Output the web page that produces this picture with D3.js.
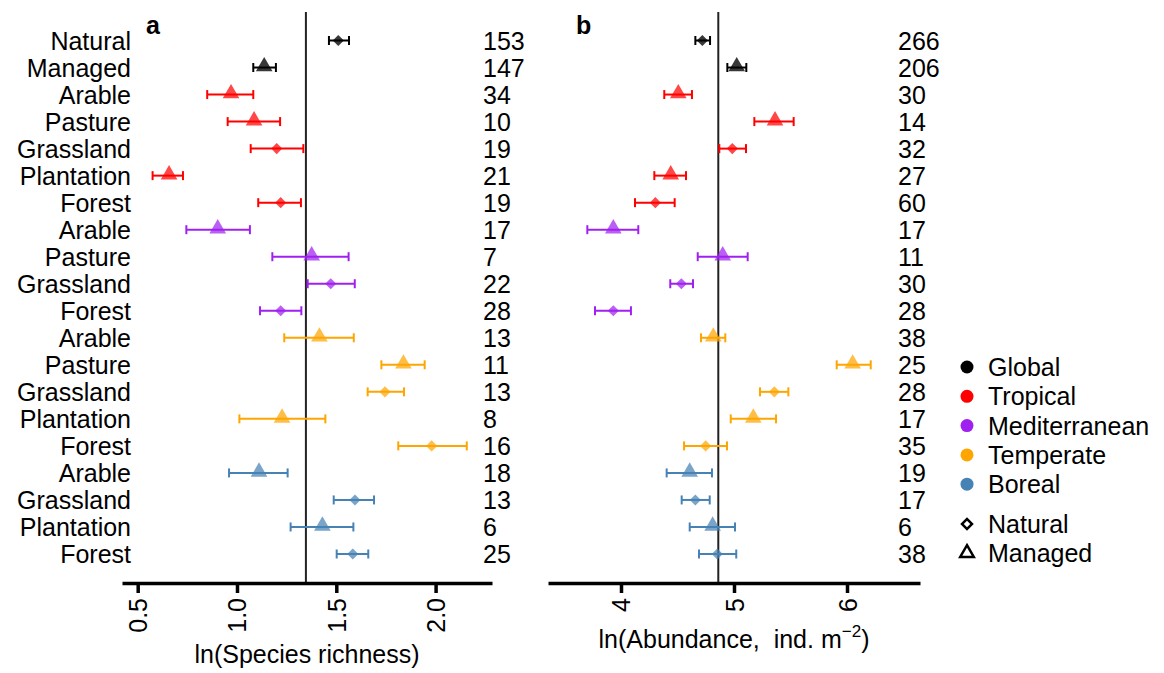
<!DOCTYPE html>
<html><head><meta charset="utf-8">
<script src="https://cdn.jsdelivr.net/npm/d3@7"></script>
<style>body{margin:0;background:#fff}svg{display:block}text{font-family:"Liberation Sans",Arial,sans-serif;fill:#000}</style>
</head><body><svg id="c" width="1164" height="673"></svg>
<script>
const rowLabels = ["Natural","Managed","Arable","Pasture","Grassland","Plantation","Forest","Arable","Pasture","Grassland","Forest","Arable","Pasture","Grassland","Plantation","Forest","Arable","Grassland","Plantation","Forest"];
const rowRegion = ["Global","Global","Tropical","Tropical","Tropical","Tropical","Tropical","Mediterranean","Mediterranean","Mediterranean","Mediterranean","Temperate","Temperate","Temperate","Temperate","Temperate","Boreal","Boreal","Boreal","Boreal"];
const rowType = ["Natural","Managed","Managed","Managed","Natural","Managed","Natural","Managed","Managed","Natural","Natural","Managed","Managed","Natural","Managed","Natural","Managed","Natural","Managed","Natural"];

const richMean = [1.51,1.137,0.97,1.086,1.20,0.658,1.22,0.903,1.376,1.472,1.22,1.415,1.838,1.745,1.227,1.98,1.111,1.594,1.43,1.583];
const richLo   = [1.463,1.082,0.85,0.953,1.069,0.575,1.107,0.745,1.178,1.356,1.116,1.238,1.727,1.658,1.012,1.812,0.96,1.487,1.27,1.502];
const richHi   = [1.564,1.196,1.082,1.217,1.334,0.728,1.322,1.065,1.562,1.593,1.324,1.588,1.945,1.841,1.445,2.157,1.255,1.69,1.586,1.661];
const richN    = [153,147,34,10,19,21,19,17,7,22,28,13,11,13,8,16,18,13,6,25];
const richRef  = 1.347;

const abunMean = [4.72,5.024,4.507,5.363,4.985,4.44,4.304,3.932,4.90,4.534,3.932,4.817,6.05,5.357,5.171,4.749,4.608,4.658,4.811,4.852];
const abunLo   = [4.658,4.941,4.383,5.18,4.87,4.295,4.124,3.702,4.679,4.436,3.77,4.708,5.909,5.23,4.971,4.558,4.404,4.537,4.608,4.69];
const abunHi   = [4.788,5.109,4.628,5.528,5.106,4.575,4.475,4.153,5.121,4.637,4.088,4.923,6.21,5.481,5.372,4.938,4.805,4.785,5.009,5.02];
const abunN    = [266,206,30,14,32,27,60,17,11,30,28,38,25,28,17,35,19,17,6,38];
const abunRef  = 4.861;

const richTicks = [0.5,1.0,1.5,2.0];
const abunTicks = [4,5,6];
const regionNames = ["Global","Tropical","Mediterranean","Temperate","Boreal"];
const regionColors = ["#000000","#FF0000","#A020F0","#FFA500","#4682B4"];
const typeNames = ["Natural","Managed"];

const color = d3.scaleOrdinal(regionNames, regionColors);
const svg = d3.select("#c");
const y = d3.scaleLinear().domain([0,19]).range([40.5,554]);
const axisY = 583;
const FS = 25;

function panel(opts){
  const {x, mean, lo, hi, n, ref, ticks, tickFmt, letter, letterX, nX, labels} = opts;
  const g = svg.append("g");
  g.append("line").attr("x1",x(ref)).attr("x2",x(ref)).attr("y1",12).attr("y2",axisY)
    .attr("stroke","#222").attr("stroke-width",2);
  const ax = g.append("g").attr("transform",`translate(0,${axisY})`)
    .call(d3.axisBottom(x).tickValues(ticks).tickFormat(tickFmt).tickSize(10).tickSizeOuter(0));
  ax.select(".domain").attr("stroke","#000").attr("stroke-width",3.5);
  ax.selectAll(".tick line").attr("stroke","#000").attr("stroke-width",3.5);
  ax.selectAll(".tick text").attr("transform","rotate(-90)").attr("text-anchor","end")
    .attr("x",-15).attr("y",0).attr("dy","0.36em").style("font-size",FS+"px").style("font-family",'"Liberation Sans",Arial,sans-serif');
  const rows = d3.range(rowLabels.length);
  const eb = g.selectAll(".eb").data(rows).join("g").attr("class","eb");
  eb.append("line").attr("x1",i=>x(lo[i])).attr("x2",i=>x(hi[i])).attr("y1",i=>y(i)).attr("y2",i=>y(i))
    .attr("stroke",i=>color(rowRegion[i])).attr("stroke-width",2);
  eb.append("line").attr("x1",i=>x(lo[i])).attr("x2",i=>x(lo[i])).attr("y1",i=>y(i)-4.5).attr("y2",i=>y(i)+4.5)
    .attr("stroke",i=>color(rowRegion[i])).attr("stroke-width",2);
  eb.append("line").attr("x1",i=>x(hi[i])).attr("x2",i=>x(hi[i])).attr("y1",i=>y(i)-4.5).attr("y2",i=>y(i)+4.5)
    .attr("stroke",i=>color(rowRegion[i])).attr("stroke-width",2);
  const tri = d3.symbol().type(d3.symbolTriangle).size(120)();
  const dia = d3.symbol().type(d3.symbolSquare).size(62)();
  g.selectAll(".mk").data(rows).join("path").attr("class","mk")
    .attr("d",i=>rowType[i]==="Managed"?tri:dia)
    .attr("transform",i=>rowType[i]==="Managed"?`translate(${x(mean[i])},${y(i)-1})`:`translate(${x(mean[i])},${y(i)}) rotate(45)`)
    .attr("fill",i=>color(rowRegion[i]))
    .attr("fill-opacity",i=>rowRegion[i]==="Global"?0.78:0.72);
  if(labels){
    g.selectAll(".rl").data(rows).join("text").attr("class","rl")
      .attr("x",131).attr("y",i=>y(i)+9).attr("text-anchor","end").style("font-size",FS+"px").text(i=>rowLabels[i]);
  }
  g.selectAll(".nl").data(rows).join("text").attr("class","nl")
    .attr("x",nX).attr("y",i=>y(i)+9).style("font-size",FS+"px").text(i=>n[i]);
  g.append("text").attr("x",letterX).attr("y",34).style("font-size","25px").style("font-weight","bold").text(letter);
  return g;
}

const xa = d3.scaleLinear().domain([0.421,2.284]).range([122,492]);
const ga = panel({x:xa, mean:richMean, lo:richLo, hi:richHi, n:richN, ref:richRef, ticks:richTicks,
  tickFmt:d3.format(".1f"), letter:"a", letterX:146, nX:483, labels:true});
ga.append("text").attr("x",307).attr("y",663).attr("text-anchor","middle").style("font-size",FS+"px").text("ln(Species richness)");

const xb = d3.scaleLinear().domain([3.354,6.646]).range([548,920]);
const gb = panel({x:xb, mean:abunMean, lo:abunLo, hi:abunHi, n:abunN, ref:abunRef, ticks:abunTicks,
  tickFmt:d3.format("d"), letter:"b", letterX:576, nX:898, labels:false});
const tb = gb.append("text").attr("x",734).attr("y",648).attr("text-anchor","middle").style("font-size",FS+"px");
tb.append("tspan").text("ln(Abundance,\u00a0 ind. m");
tb.append("tspan").attr("dy",-11).style("font-size","17px").text("\u22122");
tb.append("tspan").attr("dy",11).text(")");

const lg = svg.append("g");
lg.selectAll("circle").data(regionNames).join("circle")
  .attr("cx",967).attr("cy",(d,i)=>367+i*29.3).attr("r",6.5).attr("fill",d=>color(d));
lg.selectAll(".lt").data(regionNames).join("text").attr("class","lt")
  .attr("x",988).attr("y",(d,i)=>367+i*29.3+9).style("font-size",FS+"px").text(d=>d);
const ltri = d3.symbol().type(d3.symbolTriangle).size(80)();
const lsq = d3.symbol().type(d3.symbolSquare).size(50)();
lg.selectAll(".ls").data(typeNames).join("path").attr("class","ls")
  .attr("d",(d,i)=>i===0?lsq:ltri)
  .attr("transform",(d,i)=>i===0?`translate(967,524) rotate(45)`:`translate(967,553)`)
  .attr("fill","none").attr("stroke","#000").attr("stroke-width",2.5);
lg.selectAll(".lt2").data(typeNames).join("text").attr("class","lt2")
  .attr("x",988).attr("y",(d,i)=>524+i*29+9).style("font-size",FS+"px").text(d=>d);
</script></body></html>
